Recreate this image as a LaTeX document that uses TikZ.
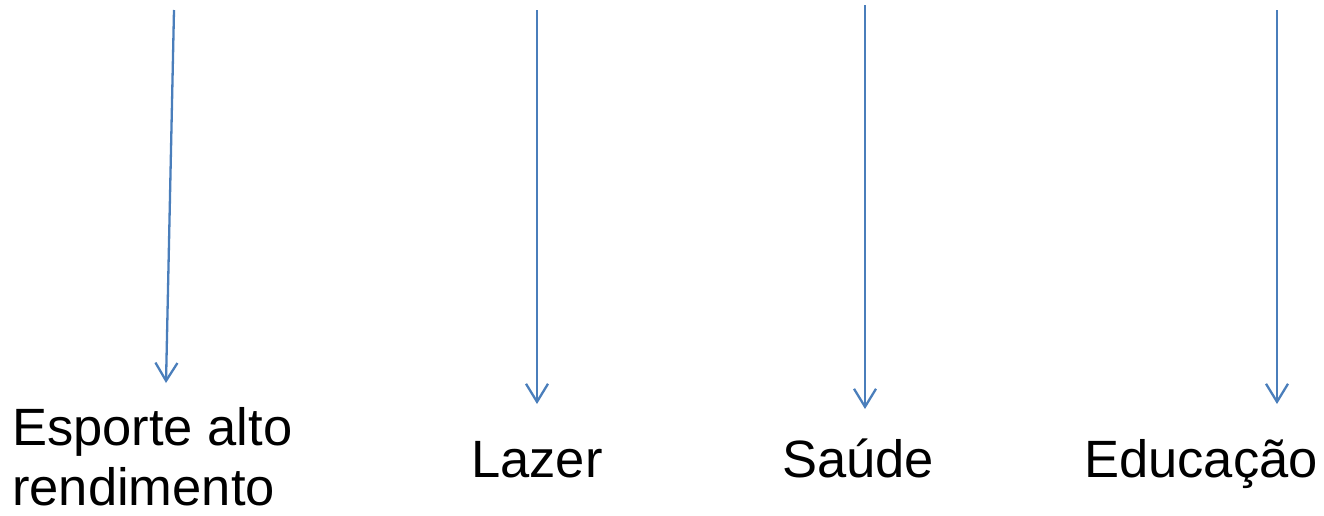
\documentclass[tikz,border=0pt]{standalone}
\usepackage{fontspec}
\setmainfont{Liberation Sans}
\usetikzlibrary{arrows.meta}
\definecolor{lineblue}{HTML}{4A7EBB}
\begin{document}
\begin{tikzpicture}[x=1pt,y=-1pt,
  conn/.style={draw=lineblue,line width=2.3pt,-{Straight Barb[length=18pt,width=22pt,line width=2.3pt]}},
  lbl/.style={inner sep=0pt,anchor=base west,font=\fontsize{52.5}{60}\selectfont,align=left}]
\useasboundingbox (0,0) rectangle (1324,515);
\coordinate (s1) at (174,10);
\coordinate (e1) at (166,383);
\coordinate (s2) at (537,10);
\coordinate (e2) at (537,404);
\coordinate (s3) at (865,5);
\coordinate (e3) at (865,409);
\coordinate (s4) at (1277,10);
\coordinate (e4) at (1277,404);
\node[lbl] (esporte) at (12,445) {Esporte alto};
\node[lbl] (rend) at (12,505) {rendimento};
\node[lbl] (lazer) at (471,477) {Lazer};
\node[lbl] (saude) at (782,477) {Saúde};
\node[lbl] (educ) at (1084,477) {Educação};
\draw[conn] (s1) -- (e1);
\draw[conn] (s2) -- (e2);
\draw[conn] (s3) -- (e3);
\draw[conn] (s4) -- (e4);
\end{tikzpicture}
\end{document}
